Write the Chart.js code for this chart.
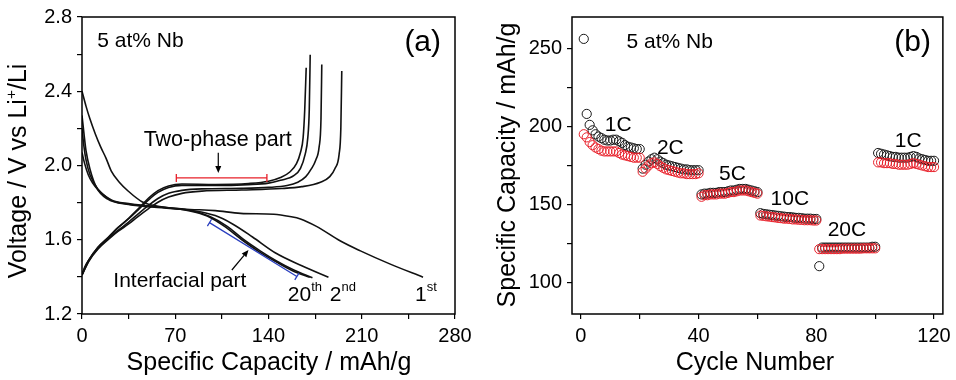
<!DOCTYPE html>
<html>
<head>
<meta charset="utf-8">
<script src="https://cdn.jsdelivr.net/npm/chart.js@4.4.0/dist/chart.umd.min.js"></script>
<style>
  html, body { margin: 0; padding: 0; background: #fff; }
  .panel { position: absolute; top: 0; height: 380px; }
  #wrapA { left: 0; width: 480px; }
  #wrapB { left: 480px; width: 476px; }
</style>
</head>
<body>
<div class="panel" id="wrapA"><canvas id="chartA" width="480" height="380"></canvas></div>
<div class="panel" id="wrapB"><canvas id="chartB" width="476" height="380"></canvas></div>
<script>
// ---- panel (a): voltage profiles, [capacity mAh/g, voltage V]
const discharge1st = [[0,2.40],[3,2.32],[6,2.25],[10,2.17],[14,2.10],[18,2.04],[22,1.97],[28,1.91],[35,1.86],[45,1.805],[55,1.783],[76,1.766],[100,1.757],[119,1.742],[144,1.737],[156,1.725],[164,1.712],[176,1.672],[194,1.593],[209,1.54],[231,1.47],[256,1.398]];
const discharge2nd = [[0,2.27],[1.5,2.17],[3,2.08],[6,1.98],[11,1.88],[19,1.82],[35,1.79],[60,1.772],[85,1.755],[100,1.73],[113,1.685],[128,1.615],[145,1.53],[165,1.46],[185,1.398]];
const discharge10th = [[0,2.20],[1.5,2.10],[3,2.03],[6,1.95],[12,1.872],[22,1.815],[35,1.795],[60,1.775],[80,1.76],[96,1.725],[109,1.672],[121,1.603],[134,1.539],[146,1.486],[159,1.437],[173,1.395]];
const discharge20th = [[0,2.07],[2,2.01],[4.7,1.95],[8,1.905],[12,1.87],[22,1.812],[35,1.792],[60,1.775],[80,1.757],[94,1.728],[107,1.672],[120,1.6],[133,1.535],[146,1.48],[158,1.433],[171,1.398]];

const chargeA = [[0,1.41],[2,1.45],[5,1.49],[12,1.56],[20,1.615],[27,1.665],[35,1.715],[42,1.765],[50,1.825],[57,1.865],[65,1.89],[75,1.9],[100,1.898],[125,1.903],[140,1.915],[149,1.935],[156,1.965],[161,2.01],[164,2.07],[166,2.15],[167.2,2.3],[168.3,2.527]];
const chargeB = [[0,1.41],[2,1.45],[5,1.49],[12,1.56],[20,1.615],[27,1.665],[35,1.713],[42,1.76],[50,1.815],[57,1.855],[65,1.882],[75,1.893],[100,1.892],[125,1.897],[140,1.905],[149,1.92],[159,1.945],[164,1.985],[167.5,2.06],[169.5,2.15],[170.6,2.3],[171.3,2.597]];
const chargeC = [[0,1.41],[5,1.485],[12,1.553],[20,1.607],[27,1.65],[35,1.695],[42,1.738],[50,1.785],[57,1.822],[65,1.85],[75,1.866],[90,1.874],[120,1.877],[140,1.882],[154,1.892],[162,1.91],[168,1.94],[172,1.98],[175.5,2.03],[178,2.1],[179.4,2.25],[180,2.544]];
const chargeD = [[0,1.41],[5,1.483],[12,1.55],[20,1.603],[27,1.645],[35,1.685],[42,1.725],[50,1.768],[57,1.802],[65,1.83],[75,1.85],[90,1.862],[120,1.868],[150,1.876],[165,1.886],[179,1.91],[186,1.94],[190,1.985],[193,2.06],[194.3,2.2],[195,2.509]];

const capTicksA = [0, 70, 140, 210, 280];
const voltTicksA = [1.2, 1.6, 2.0, 2.4, 2.8];

// ---- panel (b): rate capability, cycles 1..120
const rateLabels = ['1C', '2C', '5C', '10C', '20C', '1C'];
const capBlack = [
  256,208,201,197.5,195,193.5,192.5,191.5,191,191,191.5,191.5,190.5,189.5,188,187,186.5,186,185.5,185.5,
  173,175.5,177.5,179,180,179,177.5,176.5,175.5,175,174.5,174,173.5,173,172.5,172.5,172,172,172,172,
  156.5,157,157,157.5,157.5,157.5,158,158,158,158.5,159,159,159.5,160,160,160,159.5,159,158.5,158,
  144.5,144,143.8,143.5,143.3,143,142.8,142.5,142.3,142,142,141.8,141.5,141.5,141.3,141,141,141,140.8,140.8,
  110.6,122.5,122.5,122.5,122.5,122.5,122.5,122.5,122.5,122.5,122.5,122.5,122.5,122.5,122.5,122.5,122.5,122.5,123,123,
  183,182.5,182,181.5,181,180.5,180.5,180,180,180,180,180.5,181,180.5,179.5,179,178.5,178,178,178
];
const capRed = [
  195,193,190,188,186.5,185.5,184.5,184,184,184,184,184,183,182,181.5,181,180.5,180,180,180,
  171,173,175,176.5,177,176,174.5,173.5,172.5,172,171.5,171,170.5,170,170,169.5,169.5,169.5,169.5,170,
  155,156,156,156.5,156.5,156.5,157,157,157,157.5,158,158,158.5,159,159,159,158.5,158,157.5,157,
  143,142.8,142.5,142.3,142,141.8,141.5,141.3,141,141,140.8,140.5,140.5,140.3,140.2,140,140,140,139.8,139.8,
  121.5,121.5,121.5,121.5,121.5,121.5,121.5,121.5,121.8,121.8,121.8,121.8,121.8,121.8,121.8,122,122,122,122,122,
  177,177,176.5,176.5,176.5,176,176,175.5,175.5,175.5,175.5,176,176.5,176,175.5,175,174.5,174,174,174
];
const cycleTicksB = [0, 40, 80, 120];
const capTicksB = [100, 150, 200, 250];

const FONT = '"Liberation Sans", Arial, sans-serif';
const RED = '#e8202a';
const BLUE = '#2a3fbf';

Chart.defaults.font.family = FONT;
Chart.defaults.color = '#000';

// draw text with optional superscript pieces
function richText(ctx, parts, x, y, size, align) {
  let total = 0;
  parts.forEach(p => {
    ctx.font = (p.sup ? size * 0.62 : size) + 'px ' + FONT;
    p.w = ctx.measureText(p.t).width;
    total += p.w;
  });
  let cx = align === 'center' ? x - total / 2 : x;
  parts.forEach(p => {
    ctx.font = (p.sup ? size * 0.62 : size) + 'px ' + FONT;
    ctx.fillText(p.t, cx, p.sup ? y - size * 0.4 : y);
    cx += p.w;
  });
}

function arrow(ctx, x1, y1, x2, y2, color) {
  ctx.save();
  ctx.strokeStyle = color; ctx.fillStyle = color; ctx.lineWidth = 1.2;
  const a = Math.atan2(y2 - y1, x2 - x1);
  const hl = 7, hw = 3;
  ctx.beginPath(); ctx.moveTo(x1, y1);
  ctx.lineTo(x2 - hl * Math.cos(a), y2 - hl * Math.sin(a)); ctx.stroke();
  ctx.beginPath(); ctx.moveTo(x2, y2);
  ctx.lineTo(x2 - hl * Math.cos(a) + hw * Math.sin(a), y2 - hl * Math.sin(a) - hw * Math.cos(a));
  ctx.lineTo(x2 - hl * Math.cos(a) - hw * Math.sin(a), y2 - hl * Math.sin(a) + hw * Math.cos(a));
  ctx.closePath(); ctx.fill();
  ctx.restore();
}

function bracket(ctx, x1, y1, x2, y2, color) {
  ctx.save();
  ctx.strokeStyle = color; ctx.lineWidth = 1.3;
  const a = Math.atan2(y2 - y1, x2 - x1);
  const nx = -Math.sin(a) * 4, ny = Math.cos(a) * 4;
  ctx.beginPath();
  ctx.moveTo(x1, y1); ctx.lineTo(x2, y2);
  ctx.moveTo(x1 - nx, y1 - ny); ctx.lineTo(x1 + nx, y1 + ny);
  ctx.moveTo(x2 - nx, y2 - ny); ctx.lineTo(x2 + nx, y2 + ny);
  ctx.stroke();
  ctx.restore();
}

function frame(ctx, area) {
  ctx.save();
  ctx.strokeStyle = '#000'; ctx.lineWidth = 1.5;
  ctx.strokeRect(area.left, area.top, area.right - area.left, area.bottom - area.top);
  ctx.restore();
}

function axisOpts(min, max, ticks, labelled, fmt, side) {
  return {
    type: 'linear', min: min, max: max,
    afterBuildTicks: s => { s.ticks = ticks.map(v => ({ value: v })); },
    afterFit: side,
    border: { display: false },
    grid: { drawOnChartArea: false, drawTicks: true, tickLength: 5, color: '#000', lineWidth: 1.2 },
    ticks: {
      font: { size: 20, family: FONT }, color: '#000', padding: 5, maxRotation: 0, autoSkip: false,
      callback: v => labelled.some(l => Math.abs(l - v) < 1e-6) ? fmt(v) : ''
    }
  };
}

function minorList(min, max, step) {
  const out = [];
  for (let v = min; v <= max + 1e-9; v += step) out.push(Math.round(v * 100) / 100);
  return out;
}

// ---------------- panel (a)
const curvesA = [discharge1st, discharge2nd, discharge10th, discharge20th, chargeA, chargeB, chargeC, chargeD];

const decorA = {
  id: 'decorA',
  afterDraw(chart) {
    const ctx = chart.ctx, xs = chart.scales.x, ys = chart.scales.y;
    const X = v => xs.getPixelForValue(v), Y = v => ys.getPixelForValue(v);
    frame(ctx, chart.chartArea);
    ctx.save();
    ctx.fillStyle = '#000';
    ctx.textBaseline = 'middle'; ctx.textAlign = 'left';
    richText(ctx, [{ t: '5 at% Nb' }], X(11.5), Y(2.667), 21, 'left');
    richText(ctx, [{ t: '(a)' }], X(242), Y(2.662), 30, 'left');
    richText(ctx, [{ t: 'Two-phase part' }], X(101.9), Y(2.138), 21.5, 'center');
    richText(ctx, [{ t: 'Interfacial part' }], X(23.5), Y(1.375), 21, 'left');
    richText(ctx, [{ t: '20' }, { t: 'th', sup: true }], X(154.5), Y(1.30), 21, 'left');
    richText(ctx, [{ t: '2' }, { t: 'nd', sup: true }], X(186), Y(1.30), 21, 'left');
    richText(ctx, [{ t: '1' }, { t: 'st', sup: true }], X(250), Y(1.30), 21, 'left');

    arrow(ctx, X(102.3), Y(2.069), X(102.3), Y(1.96), '#000');
    arrow(ctx, X(112.5), Y(1.437), X(125), Y(1.545), '#000');
    bracket(ctx, X(70.8), Y(1.933), X(138.8), Y(1.933), RED);
    bracket(ctx, X(95.7), Y(1.692), X(161.3), Y(1.402), BLUE);

    // axis titles
    ctx.textBaseline = 'alphabetic';
    richText(ctx, [{ t: 'Specific Capacity / mAh/g' }], 269, 370, 25, 'center');
    ctx.translate(26, 171);
    ctx.rotate(-Math.PI / 2);
    richText(ctx, [{ t: 'Voltage / V vs Li' }, { t: '+', sup: true }, { t: '/Li' }], 0, 0, 25, 'center');
    ctx.restore();
  }
};

new Chart(document.getElementById('chartA'), {
  type: 'scatter',
  data: {
    datasets: curvesA.map(c => ({
      data: c.map(p => ({ x: p[0], y: p[1] })),
      showLine: true, borderColor: '#111', borderWidth: 1.6,
      pointRadius: 0, cubicInterpolationMode: 'monotone', fill: false
    }))
  },
  options: {
    responsive: false, animation: false, devicePixelRatio: 1,
    layout: { padding: { top: 12, right: 25, left: 0, bottom: 0 } },
    plugins: { legend: { display: false }, tooltip: { enabled: false } },
    scales: {
      x: axisOpts(0, 280, minorList(0, 280, 35), capTicksA, v => String(v), s => { s.height = 66; }),
      y: axisOpts(1.2, 2.8, minorList(1.2, 2.8, 0.2), voltTicksA, v => v.toFixed(1), s => { s.width = 82; })
    }
  },
  plugins: [decorA]
});

// ---------------- panel (b)
const decorB = {
  id: 'decorB',
  afterDraw(chart) {
    const ctx = chart.ctx, xs = chart.scales.x, ys = chart.scales.y;
    const X = v => xs.getPixelForValue(v), Y = v => ys.getPixelForValue(v);
    frame(ctx, chart.chartArea);
    ctx.save();
    ctx.fillStyle = '#000';
    ctx.textBaseline = 'middle';
    richText(ctx, [{ t: '5 at% Nb' }], X(15.5), Y(254), 21, 'left');
    richText(ctx, [{ t: '(b)' }], X(106.5), Y(253.3), 30, 'left');
    const rateSpots = [[12.7, 200.7], [30.4, 186.3], [51.5, 169.4], [71, 153.7], [90.4, 133.7], [111.2, 190.7]];
    rateLabels.forEach((t, i) => richText(ctx, [{ t: t }], X(rateSpots[i][0]), Y(rateSpots[i][1]), 21, 'center'));

    ctx.textBaseline = 'alphabetic';
    richText(ctx, [{ t: 'Cycle Number' }], 275, 370, 25, 'center');
    ctx.translate(35, 165);
    ctx.rotate(-Math.PI / 2);
    richText(ctx, [{ t: 'Specific Capacity / mAh/g' }], 0, 0, 25, 'center');
    ctx.restore();
  }
};

const circleSet = (vals, color, order) => ({
  data: vals.map((v, i) => ({ x: i + 1, y: v })),
  showLine: false, pointStyle: 'circle', pointRadius: 4.6,
  pointBorderWidth: 1, pointBorderColor: color, pointBackgroundColor: 'rgba(0,0,0,0)',
  order: order
});

new Chart(document.getElementById('chartB'), {
  type: 'scatter',
  data: { datasets: [circleSet(capRed, RED, 0), circleSet(capBlack, '#1a1a1a', 1)] },
  options: {
    responsive: false, animation: false, devicePixelRatio: 1,
    layout: { padding: { top: 12, right: 11, left: 0, bottom: 0 } },
    plugins: { legend: { display: false }, tooltip: { enabled: false } },
    scales: {
      x: axisOpts(-3, 123, minorList(0, 120, 20), cycleTicksB, v => String(v), s => { s.height = 66; }),
      y: axisOpts(80, 270, minorList(100, 250, 25), capTicksB, v => String(v), s => { s.width = 92; })
    }
  },
  plugins: [decorB]
});
</script>
</body>
</html>
